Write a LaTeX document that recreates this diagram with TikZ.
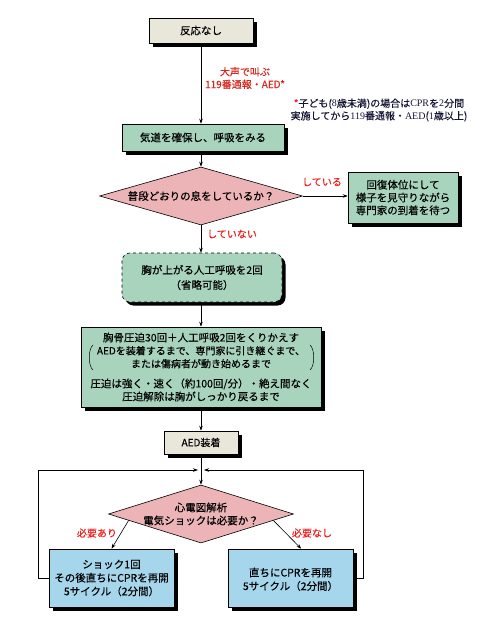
\documentclass[tikz,border=0pt]{standalone}
\usepackage{fontspec}
\setmainfont{Noto Sans CJK JP}[FakeBold=0.3]
\newfontfamily\latinserif{Liberation Serif}
\usetikzlibrary{shapes.geometric,shadows,arrows.meta,calc}
\definecolor{boxbeige}{RGB}{232,231,218}
\definecolor{boxgreen}{RGB}{168,212,190}
\definecolor{boxpink}{RGB}{236,180,182}
\definecolor{boxblue}{RGB}{166,214,236}
\definecolor{labred}{RGB}{240,30,30}
\definecolor{topred}{RGB}{215,40,30}
\definecolor{notenavy}{RGB}{20,20,50}
\newcommand{\ls}[1]{{\latinserif #1}}
\begin{document}
\begin{tikzpicture}[x=1pt,y=-1pt,
  shadowed/.style={drop shadow={shadow xshift=3.5pt,shadow yshift=-3.5pt,fill=black,opacity=1}},
  flowbox/.style={draw=black,line width=0.6pt,shadowed,inner sep=0pt,align=center,
     font=\fontsize{10.5}{13}\selectfont},
  decision/.style={diamond,draw=black,line width=0.6pt,fill=boxpink,inner sep=0pt},
  dtext/.style={align=center,font=\fontsize{10.5}{13}\selectfont},
  arrowline/.style={draw=black,line width=0.6pt,-{Stealth[length=5pt,width=3.5pt]}},
  plainline/.style={draw=black,line width=0.6pt},
  redlabel/.style={text=labred,font=\fontsize{10}{12}\selectfont}]
\useasboundingbox (0,0) rectangle (500,624);

% nodes
\node[flowbox,fill=boxbeige,minimum width=104pt,minimum height=25pt] (n1) at (201,30.5) {反応なし};
\node[flowbox,fill=boxgreen,minimum width=162pt,minimum height=27pt] (n2) at (203,137.5) {気道を確保し、呼吸をみる};
\node[decision,minimum width=203pt,minimum height=58pt] (d1) at (201,196) {};
\node[dtext] (d1t) at (d1.center) {普段どおりの息をしているか？};
\node[flowbox,fill=boxgreen,minimum width=110pt,minimum height=51pt,
  font=\fontsize{10.5}{12.8}\selectfont] (n3) at (403,197.5) {回復体位にして\\様子を見守りながら\\専門家の到着を待つ};
\node[flowbox,fill=boxgreen,dashed,rounded corners=8pt,minimum width=160pt,minimum height=49pt,
  font=\fontsize{10.5}{15}\selectfont] (n4) at (202,277.5) {胸が上がる人工呼吸を2回\\（省略可能）};
\node[flowbox,fill=boxgreen,minimum width=240pt,minimum height=80pt] (n5) at (201,367)
  {\fontsize{10.5}{11.5}\selectfont 胸骨圧迫30回＋人工呼吸2回をくりかえす\\
   {\fontsize{10}{11}\selectfont AEDを装着するまで、専門家に引き継ぐまで、}\\
   {\fontsize{10}{11}\selectfont または傷病者が動き始めるまで}\\[7pt]
   圧迫は強く・速く（約100回/分）・絶え間なく\\
   圧迫解除は胸がしっかり戻るまで};
\node[flowbox,fill=boxbeige,minimum width=74pt,minimum height=23pt,
  font=\fontsize{10}{12}\selectfont] (n6) at (201,442.5) {AED装着};
\node[decision,minimum width=185pt,minimum height=58pt] (d2) at (201,514) {};
\node[dtext] (d2t) at (d2.center) {心電図解析\\電気ショックは必要か？};
\node[flowbox,fill=boxblue,minimum width=125pt,minimum height=58pt,
  font=\fontsize{10.5}{13.5}\selectfont] (n7) at (111.5,578) {ショック1回\\その後直ちにCPRを再開\\5サイクル（2分間）};
\node[flowbox,fill=boxblue,minimum width=125pt,minimum height=58pt,
  font=\fontsize{10.5}{13.5}\selectfont] (n8) at (290.5,578) {\\[-2pt]直ちにCPRを再開\\5サイクル（2分間）};

% brackets in big box
\draw[plainline,line width=0.5pt] (93,345) .. controls (88,349) and (88,366) .. (93,370);
\draw[plainline,line width=0.5pt] (310,345) .. controls (315,349) and (315,366) .. (310,370);

% labels
\node[text=topred,align=center,font=\fontsize{10}{12.5}\selectfont] (lab1) at (245,78) {大声で叫ぶ\\119番通報・AED*};
\node[text=notenavy,align=center,font=\fontsize{10}{12.5}\selectfont] (note) at (379,110)
  {{\color{labred}*}子ども(\ls{8}歳未満)の場合は\ls{CPR}を\ls{2}分間\\実施してから\ls{119}番通報・\ls{AED}(\ls{1}歳以上)};
\node[redlabel] (lab2) at (322,182) {している};
\node[redlabel] (lab3) at (232,234) {していない};
\node[redlabel] (lab4) at (97,533) {必要あり};
\node[redlabel] (lab5) at (312,533) {必要なし};

% connectors
\draw[arrowline] (n1.south) -- (n1.south |- n2.north);
\draw[arrowline] (n2.south -| n1.south) -- (d1.north);
\draw[arrowline] (d1.east) -- (d1.east -| n3.west);
\draw[arrowline] (d1.south) -- (d1.south |- n4.north);
\draw[arrowline] (d1.south |- n4.south) -- (d1.south |- n5.north);
\draw[arrowline] (d1.south |- n5.south) -- (n6.north);
\coordinate (J) at (201,470);
\coordinate (JL) at (198,470);
\coordinate (JR) at (204,470);
\draw[plainline] (n6.south) -- (J);
\draw[arrowline] (J) -- (d2.north);
\coordinate (LL) at (38,578);
\coordinate (RR) at (363,578);
\draw[arrowline] (n7.west) -- (LL) -- (LL |- J) -- (JL);
\draw[arrowline] (n8.east) -- (RR) -- (RR |- J) -- (JR);
\draw[arrowline] ($(d2.west)!0.22!(d2.south)$) -- (n7.north);
\draw[arrowline] ($(d2.east)!0.22!(d2.south)$) -- ($(n8.north)!0.17!(n8.north east)$);
\end{tikzpicture}
\end{document}
